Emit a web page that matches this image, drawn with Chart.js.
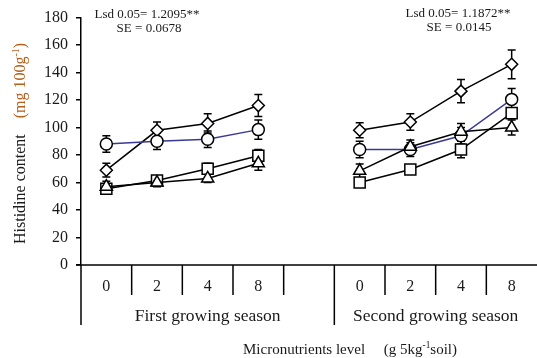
<!DOCTYPE html>
<html>
<head>
<meta charset="utf-8">
<script src="https://cdn.jsdelivr.net/npm/chart.js@4.4.0/dist/chart.umd.min.js"></script>
<style>
  body { margin: 0; background: #fff; }
</style>
</head>
<body>
<canvas id="chart" width="537" height="358"></canvas>
<script>
// Micronutrient levels, first season | gap | second season
const xLabels = ['0', '2', '4', '8', '', '0', '2', '4', '8'];

// Histidine content (mg 100g-1)
const diamondVals  = [69, 98, 103, 116, null, 98, 104, 126.5, 146];
const circleVals   = [88, 90, 91.5, 98.5, null, 84, 84, 94, 120.5];
const squareVals   = [55.5, 61.5, 70, 79.5, null, 60, 69.5, 84, 110.5];
const triangleVals = [57, 60, 63, 74, null, 68.5, 86, 97, 100];

// error bar half-widths
const diamondErr  = [5, 6, 7, 8, null, 5.5, 6, 8.5, 10.5];
const circleErr   = [6, 6, 6, 7, null, 6, 5, 6, 8];
const squareErr   = [3, 3, 4, 4.5, null, 3, 3, 6, 4];
const triangleErr = [4, 3, 3, 5, null, 5, 5, 6, 5.5];

const serif = 'Liberation Serif';
const txt = '#1a1a1a';

function series(vals, errs, shape, radius, lineColor) {
    return {
        data: vals,
        errors: errs,
        borderColor: lineColor,
        borderWidth: 1.5,
        pointStyle: shape,
        pointRadius: radius,
        pointBackgroundColor: '#fff',
        pointBorderColor: '#000',
        pointBorderWidth: 1.5,
        spanGaps: false,
        tension: 0,
        clip: false
    };
}

// draws error bars under the markers
const errorBars = {
    id: 'errorBars',
    beforeDatasetsDraw(chart) {
        const ctx = chart.ctx;
        const y = chart.scales.y;
        ctx.save();
        ctx.strokeStyle = '#000';
        ctx.lineWidth = 1.5;
        chart.data.datasets.forEach((ds, di) => {
            const meta = chart.getDatasetMeta(di);
            ds.data.forEach((v, i) => {
                if (v == null) return;
                const e = ds.errors[i];
                const px = meta.data[i].x;
                const top = y.getPixelForValue(v + e);
                const bot = y.getPixelForValue(v - e);
                ctx.beginPath();
                ctx.moveTo(px, top); ctx.lineTo(px, bot);
                ctx.moveTo(px - 4, top); ctx.lineTo(px + 4, top);
                ctx.moveTo(px - 4, bot); ctx.lineTo(px + 4, bot);
                ctx.stroke();
            });
        });
        ctx.restore();
    }
};

// text with a "-1" superscript in the middle
function supText(ctx, parts, x, y, size) {
    let cx = x;
    parts.forEach(p => {
        ctx.font = (p.sup ? size * 0.62 : size) + 'px "' + serif + '"';
        ctx.fillStyle = p.color || txt;
        ctx.fillText(p.t, cx, p.sup ? y - size * 0.38 : y);
        cx += ctx.measureText(p.t).width;
    });
}
function supWidth(ctx, parts, size) {
    let w = 0;
    parts.forEach(p => {
        ctx.font = (p.sup ? size * 0.62 : size) + 'px "' + serif + '"';
        w += ctx.measureText(p.t).width;
    });
    return w;
}

const decorations = {
    id: 'decorations',
    afterDraw(chart) {
        const ctx = chart.ctx;
        const area = chart.chartArea;
        const xs = chart.scales.x;
        const slot = xs.getPixelForValue(1) - xs.getPixelForValue(0);
        ctx.save();
        ctx.strokeStyle = '#000';
        ctx.lineWidth = 1.5;
        // x axis line
        ctx.beginPath();
        ctx.moveTo(area.left - 5, area.bottom);
        ctx.lineTo(area.right, area.bottom);
        ctx.stroke();
        // category separators below the axis
        for (let i = 0; i < xLabels.length; i++) {
            const bx = xs.getPixelForValue(i) - slot / 2;
            const long = (i === 0 || i === 5);
            ctx.beginPath();
            ctx.moveTo(bx, area.bottom);
            ctx.lineTo(bx, area.bottom + (long ? 60 : 30));
            ctx.stroke();
        }

        // season labels
        ctx.fillStyle = txt;
        ctx.textBaseline = 'middle';
        ctx.textAlign = 'center';
        ctx.font = '17.5px "' + serif + '"';
        const sep = xs.getPixelForValue(5) - slot / 2;
        ctx.fillText('First growing season', (area.left + sep) / 2, area.bottom + 51);
        ctx.fillText('Second growing season', (sep + 537) / 2, area.bottom + 51);

        // Lsd / SE notes
        ctx.font = '13px "' + serif + '"';
        ctx.fillText('Lsd 0.05= 1.2095**', 147, 15);
        ctx.fillText('SE = 0.0678', 149, 29);
        ctx.fillText('Lsd 0.05= 1.1872**', 458, 14);
        ctx.fillText('SE = 0.0145', 459, 28);

        // x axis title
        ctx.textAlign = 'left';
        ctx.textBaseline = 'alphabetic';
        const xt = [
            { t: 'Micronutrients level     (g 5kg' },
            { t: '-1', sup: true },
            { t: 'soil)' }
        ];
        supText(ctx, xt, 350 - supWidth(ctx, xt, 15) / 2, 354, 15);

        // y axis title, rotated
        ctx.translate(25, 244);
        ctx.rotate(-Math.PI / 2);
        const yt = [
            { t: 'Histidine content' },
            { t: '    (mg 100g', color: '#b5601c' },
            { t: '-1', sup: true, color: '#b5601c' },
            { t: ')', color: '#b5601c' }
        ];
        supText(ctx, yt, 0, 0, 16);
        ctx.restore();
    }
};

new Chart(document.getElementById('chart'), {
    type: 'line',
    data: {
        labels: xLabels,
        datasets: [
            series(triangleVals, triangleErr, 'triangle', 7, '#000'),
            series(squareVals, squareErr, 'rect', 7.8, '#000'),
            series(circleVals, circleErr, 'circle', 6, '#3a3a96'),
            series(diamondVals, diamondErr, 'rectRot', 6, '#000')
        ]
    },
    options: {
        responsive: false,
        animation: false,
        layout: { autoPadding: false, padding: { top: 16, right: -3, left: 0, bottom: 0 } },
        plugins: {
            legend: { display: false },
            tooltip: { enabled: false }
        },
        scales: {
            x: {
                offset: true,
                grid: { display: false, drawTicks: false },
                border: { display: false },
                ticks: { color: txt, padding: 12, font: { family: serif, size: 16 } },
                afterFit: s => { s.height = 93; s.paddingLeft = 0; s.paddingRight = 0; }
            },
            y: {
                min: 0,
                max: 180,
                ticks: { stepSize: 20, color: txt, padding: 8, font: { family: serif, size: 16 } },
                grid: { drawOnChartArea: false, tickLength: 5, color: '#000', lineWidth: 1.5 },
                border: { color: '#000', width: 1.5 },
                afterFit: s => { s.width = 81; }
            }
        }
    },
    plugins: [errorBars, decorations]
});
</script>
</body>
</html>
